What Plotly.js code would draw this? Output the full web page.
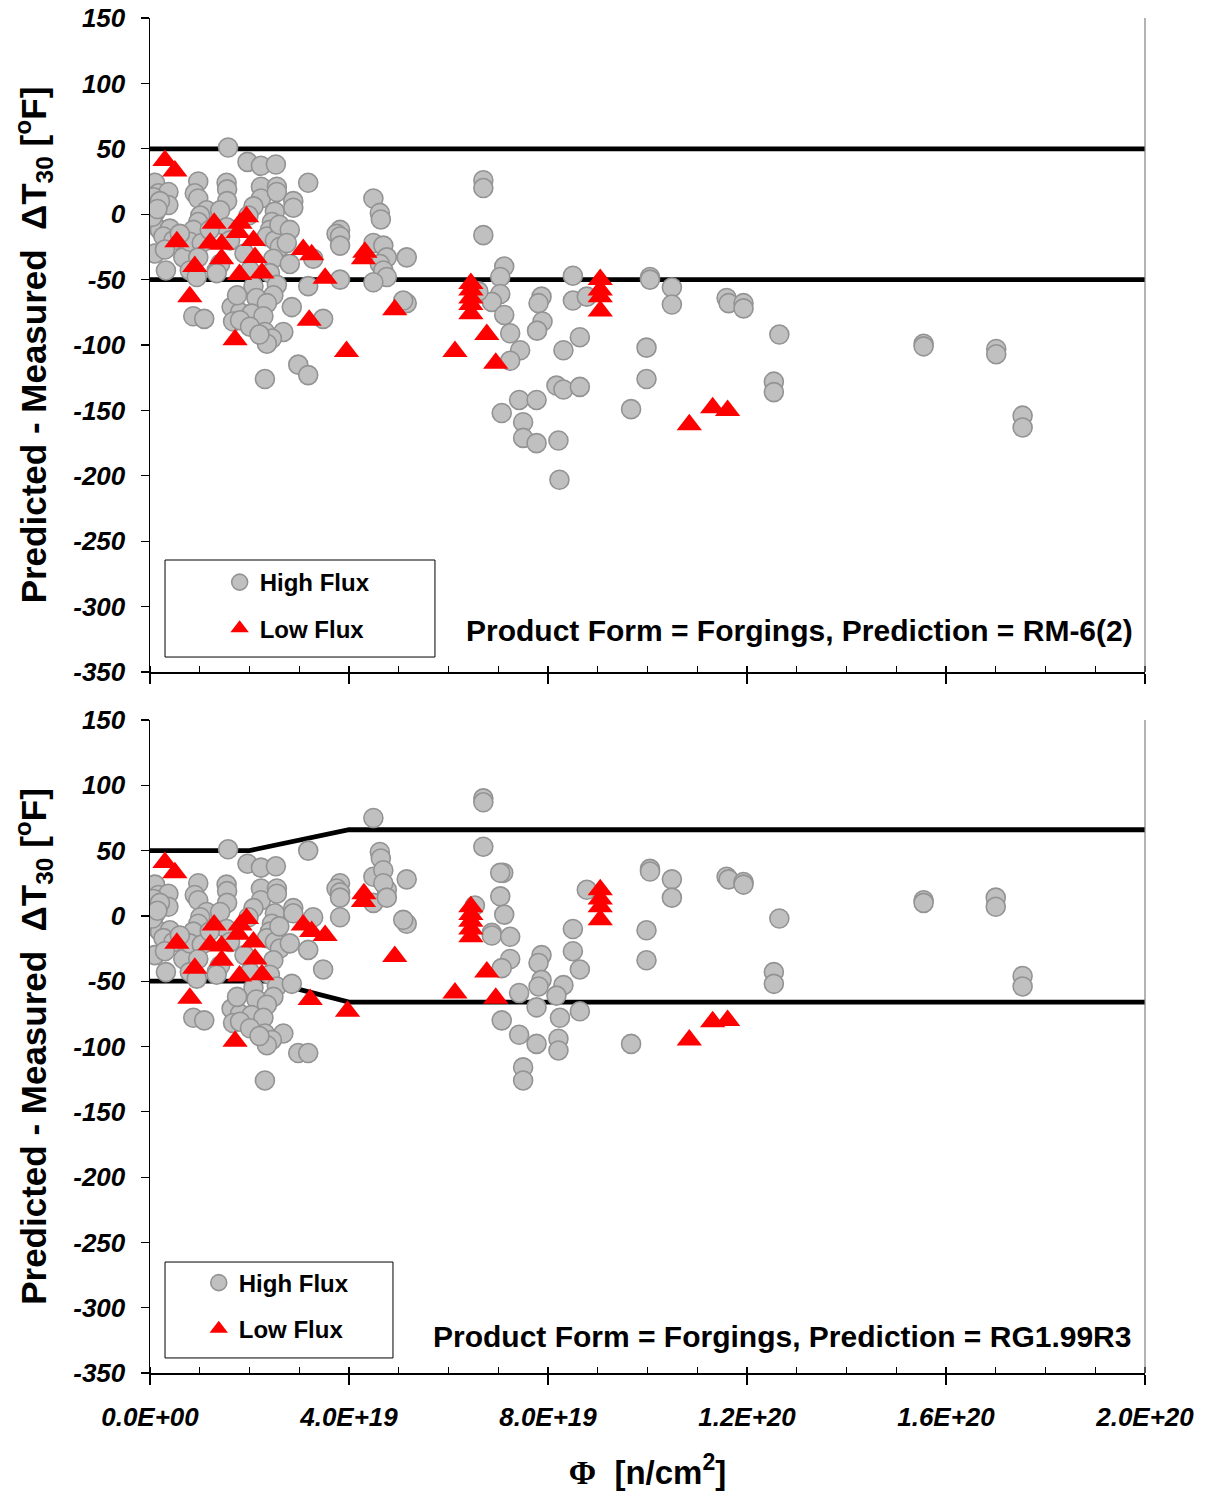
<!DOCTYPE html>
<html><head><meta charset="utf-8">
<script src="https://cdn.plot.ly/plotly-3.0.1.min.js"></script>
<style>body{margin:0;background:#fff}</style>
</head><body>
<div id="chart" style="width:1210px;height:1498px"></div>
<script>
// Fluence values are given in units of 1e19 n/cm^2
const FLUENCE_UNIT = 1e19;

// High flux points common to both panels (low fluence region)
const hfCommon = [
 [1.57,51],[1.96,40],[2.23,37],[2.53,38],[0.10,24],[0.17,16],[0.37,17],[0.07,13],[0.37,7],[0.20,10],
 [0.10,1],[0.07,-8],[0.20,-12],[0.40,-11],[0.27,-17],[0.47,-20],[0.10,-30],[0.30,-27],[0.32,-43],[0.67,-33],
 [0.97,25],[0.90,16],[0.97,12],[1.14,3],[1.01,-1],[0.97,-6],[0.87,-12],[0.80,-21],[1.04,-22],[0.97,-33],
 [0.80,-43],[0.94,-48],[0.87,-78],[1.09,-80],[1.34,-43],[1.54,24],[1.55,19],[1.55,10],[1.41,3],[1.54,-10],
 [1.61,-20],[1.41,-38],[1.34,-45],[1.64,-71],[1.81,-75],[1.67,-82],[2.23,21],[2.23,12],[2.55,21],[2.55,17],
 [2.08,6],[1.98,-1],[2.51,2],[2.45,-6],[2.41,-12],[2.35,-17],[2.51,-20],[2.61,-25],[2.48,-34],[2.01,-43],
 [2.41,-45],[2.55,-54],[2.08,-55],[2.14,-64],[2.48,-62],[2.35,-68],[2.04,-76],[2.28,-78],[1.81,-81],[2.01,-86],
 [2.31,-90],[2.68,-90],[2.45,-95],[2.35,-99],[2.31,-126],[0.05,-2],[0.60,-15],[1.20,-12],[1.90,-30],[2.60,-8],
 [2.20,-92],[1.75,-62],[0.15,4]
];
// High flux points, upper panel (RM-6(2))
const hfTop = [
 [3.18,24],[2.88,10],[2.88,5],[2.81,-12],[2.75,-22],[2.81,-38],[3.28,-34],[3.18,-55],[2.85,-71],[3.48,-80],
 [2.98,-115],[3.18,-123],[3.82,-12],[3.75,-15],[3.82,-17],[3.82,-24],[3.82,-50],[4.49,12],[4.62,1],[4.64,-4],
 [4.49,-22],[4.69,-24],[4.76,-33],[4.62,-38],[4.69,-43],[4.76,-48],[4.49,-52],[5.16,-33],[5.16,-68],[5.09,-66],
 [6.70,26],[6.70,20],[6.70,-16],[7.12,-40],[7.04,-48],[7.04,-61],[6.87,-67],[6.60,-59],[7.12,-77],[7.24,-91],
 [7.44,-104],[7.24,-112],[7.87,-63],[7.81,-68],[7.89,-82],[7.78,-89],[8.31,-104],[8.64,-94],[8.50,-47],[8.50,-66],
 [8.78,-63],[10.05,-48],[10.05,-50],[10.49,-56],[10.49,-69],[11.59,-64],[11.63,-68],[11.93,-68],[11.93,-72],[12.65,-92],
 [9.98,-102],[9.98,-126],[9.67,-149],[12.54,-128],[12.54,-136],[7.42,-142],[7.77,-142],[7.07,-152],[7.50,-159],[7.50,-171],
 [7.77,-175],[8.21,-173],[8.17,-131],[8.31,-134],[8.64,-132],[8.23,-203],[15.55,-99],[15.55,-101],[17.01,-103],[17.01,-107],
 [17.54,-154],[17.54,-163]
];
// High flux points, lower panel (RG1.99R3)
const hfBottom = [
 [3.18,50],[2.88,6],[2.88,2],[2.81,-21],[3.28,-1],[3.18,-26],[3.48,-41],[2.85,-52],[2.98,-105],[3.18,-105],
 [3.82,25],[3.75,21],[3.82,18],[3.82,14],[3.82,-1],[4.49,75],[4.62,49],[4.64,44],[4.49,30],[4.69,35],
 [4.76,20],[4.49,10],[4.69,25],[4.76,14],[5.16,28],[5.16,-6],[5.09,-3],
 [6.70,90],[6.70,87],[6.70,53],[7.10,33],[7.04,33],[7.04,15],[7.12,1],[6.53,8],[6.87,-13],[6.87,-15],
 [7.24,-16],[7.24,-33],[7.07,-40],[8.50,-10],[8.50,-27],[8.64,-41],[8.78,20],[7.87,-30],[7.81,-36],[7.87,-49],
 [7.81,-54],[7.42,-59],[7.77,-70],[8.31,-53],[8.17,-61],[8.64,-73],[8.24,-78],[8.21,-94],[8.21,-103],[7.07,-80],
 [7.42,-91],[7.77,-98],[7.50,-116],[7.50,-126],[9.67,-98],[9.98,-11],[9.98,-34],[10.05,36],[10.05,34],[10.49,28],
 [10.49,14],[11.59,30],[11.63,28],[11.93,26],[11.93,24],[12.65,-2],[12.54,-43],[12.54,-52],[15.55,12],[15.55,10],
 [17.0,14],[17.0,7],[17.54,-46],[17.54,-54]
];
// Low flux points common to both panels
const lfCommon = [
 [0.30,41],[0.50,33],[0.54,-21],[0.90,-40],[0.80,-63],[1.71,-96],[1.29,-7],[1.21,-22],[1.44,-23],[1.44,-34],
 [1.81,-7],[1.94,-2],[1.77,-14],[2.08,-20],[2.11,-33],[2.25,-45],[1.80,-46]
];
const lfTop = [
 [3.08,-27],[3.25,-31],[3.52,-49],[3.20,-81],[3.95,-105],[4.32,-29],[4.29,-34],[4.92,-73],[6.13,-105],[6.45,-53],
 [6.45,-58],[6.45,-64],[6.45,-69],[6.45,-76],[6.77,-92],[6.95,-114],[9.05,-50],[9.05,-58],[9.05,-63],[9.05,-74],
 [10.84,-161],[11.31,-148],[11.61,-150]
];
const lfBottom = [
 [3.08,-7],[3.25,-12],[3.52,-15],[3.22,-64],[3.97,-73],[4.30,17],[4.29,11],[4.92,-31],[6.13,-59],[6.45,7],
 [6.45,1],[6.45,-4],[6.45,-10],[6.45,-16],[6.77,-43],[6.95,-63],[9.05,20],[9.05,13],[9.05,7],[9.05,-3],
 [10.84,-95],[11.31,-81],[11.61,-80]
];
// Bounding lines
const topUpperX = [0, 20], topUpperY = [50, 50];
const topLowerX = [0, 20], topLowerY = [-50, -50];
const botUpperX = [0, 2.0, 4.0, 20], botUpperY = [50, 50, 66, 66];
const botLowerX = [0, 2.35, 4.0, 20], botLowerY = [-50, -50, -66, -66];

const xTickVals = [0, 4, 8, 12, 16, 20];
const xTickText = ['0.0E+00','4.0E+19','8.0E+19','1.2E+20','1.6E+20','2.0E+20'];
const yTickVals = [150,100,50,0,-50,-100,-150,-200,-250,-300,-350];
const yTickText = ['150','100','50','0','-50','-100','-150','-200','-250','-300','-350'];

const seriesNames = ['High Flux', 'Low Flux'];
const panelLabels = ['Product Form = Forgings, Prediction = RM-6(2)', 'Product Form = Forgings, Prediction = RG1.99R3'];
const yTitle = 'Predicted - Measured  \u0394T<sub>30</sub> [<sup>o</sup>F]';
const xTitle = '<span style="font-family:Liberation Serif">\u03A6</span>  [n/cm<sup>2</sup>]';

const FONT = 'Liberation Sans, Arial, sans-serif';
const xs = a => a.map(p => p[0] * FLUENCE_UNIT);
const ys = a => a.map(p => p[1]);

const circleMarker = {symbol:'circle', size:19, color:'#C0C0C0', line:{color:'#939393', width:1.6}};
const triMarker = {symbol:'triangle-up', size:22, color:'#FF0000', line:{width:0}};

function lineTrace(x, y, xa, ya) {
  return {x: x.map(v => v * FLUENCE_UNIT), y: y, mode:'lines', line:{color:'#000', width:4.8},
          xaxis:xa, yaxis:ya, showlegend:false, hoverinfo:'skip'};
}
function ptTrace(name, pts, marker, xa, ya, leg, grp) {
  return {name:name, x:xs(pts), y:ys(pts), mode:'markers', marker:marker, xaxis:xa, yaxis:ya,
          legend:leg, legendgroup:grp, showlegend:true};
}

const data = [
  lineTrace(topUpperX, topUpperY, 'x', 'y'),
  lineTrace(topLowerX, topLowerY, 'x', 'y'),
  lineTrace(botUpperX, botUpperY, 'x2', 'y2'),
  lineTrace(botLowerX, botLowerY, 'x2', 'y2'),
  ptTrace(seriesNames[0], hfCommon.concat(hfTop), circleMarker, 'x', 'y', 'legend', 'hf'),
  ptTrace(seriesNames[1], lfCommon.concat(lfTop), triMarker, 'x', 'y', 'legend', 'lf'),
  ptTrace(seriesNames[0], hfCommon.concat(hfBottom), circleMarker, 'x2', 'y2', 'legend2', 'hf2'),
  ptTrace(seriesNames[1], lfCommon.concat(lfBottom), triMarker, 'x2', 'y2', 'legend2', 'lf2')
];

function xAxis(anchor, labels) {
  return {
    anchor: anchor, domain:[0,1], range:[0, 20 * FLUENCE_UNIT],
    tickmode:'array', tickvals: xTickVals.map(v => v * FLUENCE_UNIT), ticktext: xTickText,
    showticklabels: labels, ticks:'outside', ticklen:10, tickwidth:1.2, tickcolor:'#000',
    minor:{tickmode:'linear', tick0:0, dtick:FLUENCE_UNIT, ticks:'inside', ticklen:6, tickwidth:1.2, tickcolor:'#000', showgrid:false},
    showline:true, linecolor:'#000', linewidth:1.5, showgrid:false, zeroline:false,
    tickfont:{family:FONT, size:26, weight:'bold', style:'italic', color:'#000'},
    ticklabelstandoff: 10
  };
}
function yAxis(anchor, domain) {
  return {
    anchor: anchor, domain: domain, range:[-350,150],
    tickmode:'array', tickvals:yTickVals, ticktext:yTickText,
    ticks:'outside', ticklen:8, tickwidth:1.2, tickcolor:'#000',
    showline:true, linecolor:'#000', linewidth:1.5, showgrid:false, zeroline:false,
    tickfont:{family:FONT, size:26, weight:'bold', style:'italic', color:'#000'},
    ticklabelstandoff: 10,
    title:{text:yTitle, font:{family:FONT, size:35, weight:'bold', color:'#000'}, standoff:16}
  };
}

const topDom = [0.5173, 1], botDom = [0, 0.4819];
const legendBase = {xanchor:'left', yanchor:'top', bgcolor:'rgba(0,0,0,0)', borderwidth:0,
  font:{family:FONT, size:24, weight:'bold', color:'#000'}, tracegroupgap:12, itemsizing:'trace'};

const layout = {
  width:1210, height:1498,
  margin:{l:150, r:65, t:18, b:125},
  paper_bgcolor:'#fff', plot_bgcolor:'#fff',
  showlegend:true,
  xaxis: xAxis('y', false),
  yaxis: yAxis('x', topDom),
  xaxis2: Object.assign(xAxis('y2', true), {title:{text:xTitle, font:{family:FONT, size:33, weight:'bold', color:'#000'}, standoff:30}}),
  yaxis2: yAxis('x2', botDom),
  legend: Object.assign({x:0.070, y:0.600}, legendBase),
  legend2: Object.assign({x:0.049, y:0.083}, legendBase),
  shapes: [
    {type:'rect', xref:'paper', yref:'paper', x0:0.0151, x1:0.2864, y0:0.5284, y1:0.6000, line:{color:'#000', width:1}},
    {type:'rect', xref:'paper', yref:'paper', x0:0.0151, x1:0.2442, y0:0.0111, y1:0.0819, line:{color:'#000', width:1}},
    {type:'line', xref:'paper', yref:'paper', x0:1, x1:1, y0:topDom[0], y1:topDom[1], line:{color:'#808080', width:1.2}},
    {type:'line', xref:'paper', yref:'paper', x0:1, x1:1, y0:botDom[0], y1:botDom[1], line:{color:'#808080', width:1.2}}
  ],
  annotations: [
    {text:panelLabels[0], xref:'paper', yref:'paper', x:0.990, y:0.5483, xanchor:'right', yanchor:'middle', showarrow:false,
     font:{family:FONT, size:30, weight:'bold', color:'#000'}},
    {text:panelLabels[1], xref:'paper', yref:'paper', x:0.988, y:0.0266, xanchor:'right', yanchor:'middle', showarrow:false,
     font:{family:FONT, size:30, weight:'bold', color:'#000'}}
  ]
};

Plotly.newPlot('chart', data, layout, {displayModeBar:false, staticPlot:true});
</script>
</body></html>
